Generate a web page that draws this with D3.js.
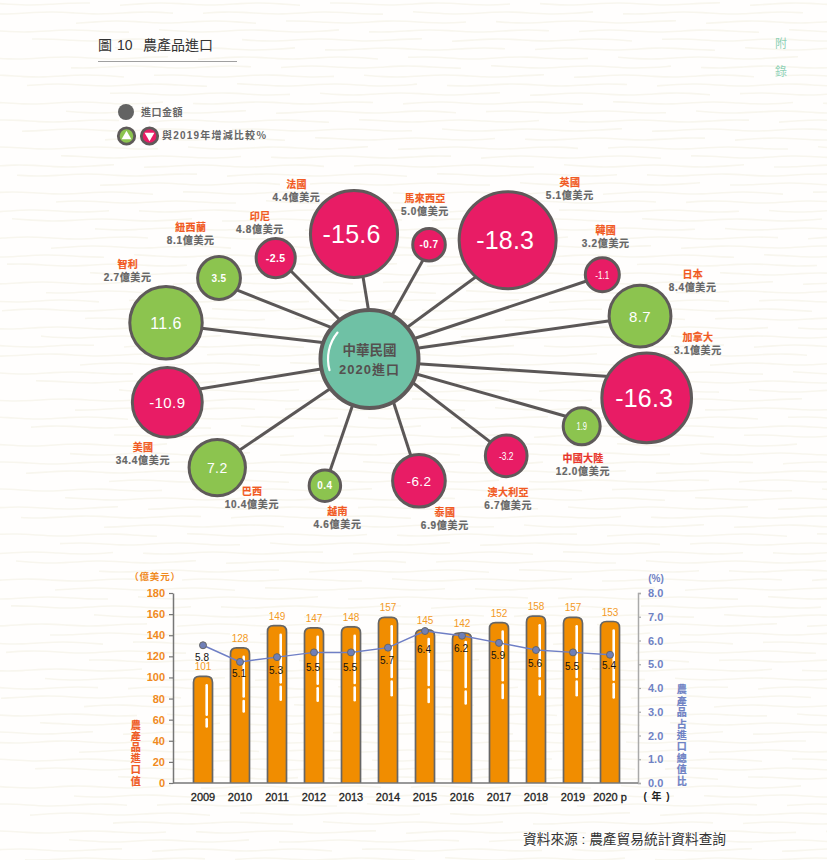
<!DOCTYPE html>
<html>
<head>
    <meta http-equiv="content-type" content="text/html; charset=utf-8" />
    <style>
        html, body { margin: 0; padding: 0; background: #fffefd; }
        svg { display: block; }
        text { font-family: "Liberation Sans", sans-serif; }
        .cjk { font-family: "Liberation Sans", "Noto Sans CJK TC", sans-serif; }
    </style>
</head>
<body>
    <svg width="827" height="860"></svg>

    <script src="https://d3js.org/d3.v7.min.js"></script>
    <script>
        // 泡泡圖資料
        const countries = ['法國', '馬來西亞', '英國', '韓國', '日本', '加拿大', '中國大陸', '澳大利亞', '泰國', '越南', '巴西', '美國', '智利', '紐西蘭', '印尼']
        const importAmounts = [4.4, 5.0, 5.1, 3.2, 8.4, 3.1, 12.0, 6.7, 6.9, 4.6, 10.4, 34.4, 2.7, 8.1, 4.8]
        const changes = [-15.6, -0.7, -18.3, -1.1, 8.7, -16.3, 1.9, -3.2, -6.2, 0.4, 7.2, -10.9, 11.6, 3.5, -2.5]

        // 長條圖資料
        const years = ['2009', '2010', '2011', '2012', '2013', '2014', '2015', '2016', '2017', '2018', '2019', '2020 p']
        const exportValues = [101, 128, 149, 147, 148, 157, 145, 142, 152, 158, 157, 153]
        const shares = [5.8, 5.1, 5.3, 5.5, 5.5, 5.7, 6.4, 6.2, 5.9, 5.6, 5.5, 5.4]
        const valueTicks = [0, 20, 40, 60, 80, 100, 120, 140, 160, 180]
        const shareTicks = [0, 1, 2, 3, 4, 5, 6, 7, 8]

        // 版面 (spoke angle in degrees clockwise from north, spoke length, label offset, number size)
        const spokeAngle = [-7.07, 27.5, 49.3, 70.1, 81, 98, 107.6, 125.3, 157.9, 199.4, 234.5, 257.9, -79.9, -61.7, -42.9]
        const spokeLen = [126, 128.9, 182.2, 247.6, 273.9, 279.9, 222.6, 167.5, 131.4, 134.3, 187, 206.8, 206.7, 170.9, 137.8]
        const labelDx = [-57.5, -4, 62.3, 3.4, 52.7, 51.3, 1.3, 2, 26, 12.7, 34.7, -24.3, -38.3, -28.3, -15.7]
        const labelDy = [-50, -46.5, -58, -44.7, -41.3, -60.7, 31.7, 36.3, 31.3, 25.6, 23.6, 44.7, -58.7, -50.7, -41.5]
        const numberPx = [25, 10, 25, 10.5, 15, 25, 10.5, 10.5, 13.5, 10, 14, 15, 16, 10, 10.5]
        const numberFit = [0, 0, 0, 14, 0, 0, 10.5, 14.5, 0, 0, 0, 0, 0, 0, 0]
        const shareLabelDy = [12, 12, 13, 15, 15, 13, 18, 13, 13, 13, 14, 11]
        // the spokes do not all aim at the exact centres, offsets at each end
        const hubAimDx = [7, -2, 0, 0, 0, 0, 0, 0, 10, -1, 0, 0, 0, 0, 0]
        const hubAimDy = [0, 0, -4, -5.5, -4, 1.6, 1.7, -9.5, 0, 0, 3, 2, -11, -16.4, -9.5]
        const endAimDx = [2, 2.6, 0, 0, 0, 0, 0, 0, 0, 0, 0, 0, 0, 0, 0]
        const endAimDy = [0, 0, 13.4, 1, 0.4, -19, -5.6, -1.7, 0, 0, -2.3, -8, 1.3, 5, -2.3]

        const svg = d3.select('svg')
        const waveLine = d3.line().curve(d3.curveBasis)

        // paper background
        const paper = svg.append('g').attr('fill', 'none').attr('stroke', '#f8f6ee').attr('stroke-width', 1.6)
        d3.range(4, 860, 9).forEach((y, row) => {
            d3.range(-90 + (row * 83) % 210, 827, 210).forEach((x0, col) => {
                const pts = d3.range(0, 10).map(i => [x0 + i * 20, y + Math.sin(i * 1.3 + row + col * 2) * 1.3])
                paper.append('path').attr('d', waveLine(pts))
            })
        })

        // title
        const title = svg.append('text').attr('class', 'cjk').attr('y', 50).attr('font-size', 14).attr('fill', '#333')
        title.append('tspan').attr('x', 98).text('圖')
        title.append('tspan').attr('x', 117).text('10')
        title.append('tspan').attr('x', 143).text('農產品進口')
        svg.append('line').attr('x1', 98).attr('x2', 237).attr('y1', 61.5).attr('y2', 61.5)
            .attr('stroke', '#888').attr('stroke-width', 0.8)
        svg.append('text').attr('class', 'cjk').attr('x', 781).attr('y', 48).attr('text-anchor', 'middle')
            .attr('font-size', 12).attr('fill', '#8fd1b5').text('附')
        svg.append('text').attr('class', 'cjk').attr('x', 781).attr('y', 76).attr('text-anchor', 'middle')
            .attr('font-size', 12).attr('fill', '#8fd1b5').text('錄')

        // legend
        const legend = svg.append('g')
        legend.append('circle').attr('cx', 126).attr('cy', 112).attr('r', 8).attr('fill', '#636363')
        legend.append('text').attr('class', 'cjk').attr('x', 141).attr('y', 115.5)
            .attr('font-size', 10).attr('font-weight', 700).attr('fill', '#666')
            .attr('letter-spacing', 0.5).text('進口金額')
        const triangle = d3.symbol().type(d3.symbolTriangle).size(42)
        const markers = [{ x: 126.5, fill: '#8cc44f', rot: 0, dy: 0.5 }, { x: 149.5, fill: '#e81c65', rot: 180, dy: -0.5 }]
        markers.forEach(m => {
            legend.append('circle').attr('cx', m.x).attr('cy', 136).attr('r', 8.2)
                .attr('fill', m.fill).attr('stroke', '#5f5a5a').attr('stroke-width', 2.8)
            legend.append('path').attr('d', triangle).attr('fill', '#fff')
                .attr('transform', `translate(${m.x},${136 + m.dy}) rotate(${m.rot})`)
        })
        legend.append('text').attr('class', 'cjk').attr('x', 162).attr('y', 139)
            .attr('font-size', 10).attr('font-weight', 700).attr('fill', '#666')
            .attr('letter-spacing', 1.2).text('與2019年增減比較％')

        // hub and spokes
        const hub = svg.append('g').attr('transform', 'translate(369.5,359)')
        const radius = d3.scaleLinear().domain([0, 18.3]).range([15, 48.5])
        const nodes = countries.map((name, i) => {
            const [x, y] = d3.pointRadial(spokeAngle[i] * Math.PI / 180, spokeLen[i])
            return { name, amount: importAmounts[i], change: changes[i], x, y, i }
        })

        hub.selectAll('line.spoke').data(nodes).join('line').attr('class', 'spoke')
            .attr('x1', d => hubAimDx[d.i]).attr('y1', d => hubAimDy[d.i])
            .attr('x2', d => d.x + endAimDx[d.i]).attr('y2', d => d.y + endAimDy[d.i])
            .attr('stroke', '#5b5757').attr('stroke-width', 3)

        const bubble = hub.selectAll('g.bubble').data(nodes).join('g').attr('class', 'bubble')
            .attr('transform', d => `translate(${d.x},${d.y})`)
        bubble.append('circle').attr('r', d => radius(Math.abs(d.change)))
            .attr('fill', d => d.change < 0 ? '#e81c65' : '#8cc44f')
            .attr('stroke', '#5f5a5a').attr('stroke-width', 3)
        bubble.append('text').attr('text-anchor', 'middle').attr('dy', '0.36em')
            .attr('dx', d => numberPx[d.i] > 20 ? -2.5 : 0)
            .attr('fill', '#fff')
            .attr('font-size', d => numberPx[d.i])
            .attr('font-weight', d => numberPx[d.i] < 12 && !numberFit[d.i] ? 700 : 400)
            .attr('letter-spacing', d => numberFit[d.i] ? 0 : (numberPx[d.i] > 20 ? 0.2 : 0.4))
            .each(function(d) {
                if (numberFit[d.i]) d3.select(this).attr('textLength', numberFit[d.i]).attr('lengthAdjust', 'spacingAndGlyphs')
            })
            .text(d => d.change)

        bubble.append('text').attr('class', 'cjk').attr('text-anchor', 'middle')
            .attr('x', d => labelDx[d.i]).attr('y', d => labelDy[d.i] + 3.6)
            .attr('font-size', 10).attr('font-weight', 700)
            .attr('fill', d => d.name === '中國大陸' ? '#e8352a' : '#f15a22').attr('letter-spacing', 0.3)
            .attr('stroke', d => d.name === '中國大陸' ? '#e8352a' : '#f15a22').attr('stroke-width', 0.2)
            .text(d => d.name)
        bubble.append('text').attr('class', 'cjk').attr('text-anchor', 'middle')
            .attr('x', d => labelDx[d.i]).attr('y', d => labelDy[d.i] + 16.6)
            .attr('font-size', 10).attr('font-weight', 700)
            .attr('fill', '#666').attr('letter-spacing', 0.7)
            .attr('stroke', '#666').attr('stroke-width', 0.2)
            .text(d => d.amount.toFixed(1) + '億美元')

        hub.append('circle').attr('r', 49).attr('fill', '#6fc1a5')
            .attr('stroke', '#5f5a5a').attr('stroke-width', 4)
        hub.append('path').attr('fill', '#fff')
            .attr('d', d3.arc().innerRadius(40.4).outerRadius(42.6).cornerRadius(1)
                .startAngle(-107 * Math.PI / 180).endAngle(-49 * Math.PI / 180)())
        hub.append('text').attr('class', 'cjk').attr('text-anchor', 'middle').attr('y', -4)
            .attr('font-size', 13.5).attr('font-weight', 700).attr('fill', '#55504f').text('中華民國')
        hub.append('text').attr('class', 'cjk').attr('text-anchor', 'middle').attr('y', 15)
            .attr('font-size', 13).attr('font-weight', 700).attr('fill', '#55504f')
            .attr('letter-spacing', 1).text('2020進口')

        // bar chart
        const x = d3.scaleBand().domain(years).range([184.5, 628.5]).padding(0)
        const yVal = d3.scaleLinear().domain([0, 180]).range([783, 593])
        const yPct = d3.scaleLinear().domain([0, 8]).range([783, 593])
        const cx = d => x(d) + x.bandwidth() / 2
        const barW = 19

        const barPath = (year, v) => {
            const l = cx(year) - barW / 2, r = cx(year) + barW / 2, t = yVal(v), b = yVal(0)
            return `M${l},${b}V${t + 6}Q${l},${t} ${l + 6},${t}H${r - 6}Q${r},${t} ${r},${t + 6}V${b}`
        }
        const bars = svg.append('g').selectAll('g').data(years).join('g')
        bars.append('path').attr('d', (d, i) => barPath(d, exportValues[i]))
            .attr('fill', '#f18d00').attr('stroke', '#666').attr('stroke-width', 1.7)
        // white highlights on the bars
        bars.append('line').attr('x1', d => cx(d) + 3.7).attr('x2', d => cx(d) + 3.7)
            .attr('y1', (d, i) => yVal(exportValues[i]) + 9)
            .attr('y2', (d, i) => yVal(exportValues[i] * 0.64))
            .attr('stroke', '#fff').attr('stroke-width', 2.6).attr('stroke-linecap', 'round')
        bars.append('line').attr('x1', d => cx(d) + 3.7).attr('x2', d => cx(d) + 3.7)
            .attr('y1', (d, i) => yVal(exportValues[i] * 0.64) + 4.5)
            .attr('y2', (d, i) => yVal(exportValues[i] * 0.53))
            .attr('stroke', '#fff').attr('stroke-width', 2.6).attr('stroke-linecap', 'round')
        bars.append('text').attr('x', d => cx(d)).attr('text-anchor', 'middle')
            .attr('y', (d, i) => yVal(exportValues[i]) - 6)
            .attr('font-size', 10).attr('fill', '#f39a26').text((d, i) => exportValues[i])

        // axes
        const styleAxis = (g, stroke, fill) => {
            g.selectAll('path.domain').attr('stroke', stroke).attr('stroke-width', 1.5)
            g.selectAll('.tick line').attr('stroke', stroke).attr('stroke-width', 1.2)
            g.selectAll('.tick text').attr('fill', fill).attr('font-size', 11)
                .attr('font-weight', 700).attr('font-family', '"Liberation Sans", sans-serif')
        }
        const leftAxis = svg.append('g').attr('transform', 'translate(173,0)')
            .call(d3.axisLeft(yVal).tickValues(valueTicks).tickSize(4).tickSizeOuter(0).tickPadding(4))
        styleAxis(leftAxis, '#777', '#f08a1d')
        const rightAxis = svg.append('g').attr('transform', 'translate(638,0)')
            .call(d3.axisRight(yPct).tickValues(shareTicks).tickSize(3).tickSizeOuter(3).tickPadding(7)
                .tickFormat(d3.format('.1f')))
        styleAxis(rightAxis, '#aaa', '#6f82c4')
        const bottomAxis = svg.append('g').attr('transform', 'translate(0,783)')
            .call(d3.axisBottom(x).tickSize(0).tickPadding(8))
        bottomAxis.select('path.domain').attr('d', 'M173,0H638')
        styleAxis(bottomAxis, '#777', '#222')
        bottomAxis.selectAll('.tick text').attr('font-size', 11).attr('font-weight', 400).attr('dy', '0.95em')
            .attr('stroke', '#222').attr('stroke-width', 0.3)

        // share line
        const shareLine = d3.line().x((d, i) => cx(years[i])).y(d => yPct(d))
        svg.append('path').attr('d', shareLine(shares)).attr('fill', 'none')
            .attr('stroke', '#6f7fc5').attr('stroke-width', 1.5)
        svg.append('g').selectAll('circle').data(shares).join('circle')
            .attr('cx', (d, i) => cx(years[i])).attr('cy', d => yPct(d)).attr('r', 3.5)
            .attr('fill', '#6f7fb8').attr('stroke', '#666').attr('stroke-width', 1)
        svg.append('g').selectAll('text').data(shares).join('text')
            .attr('x', (d, i) => cx(years[i]) - 1).attr('y', (d, i) => yPct(d) + shareLabelDy[i] + 3.6)
            .attr('text-anchor', 'middle').attr('font-size', 10).attr('fill', '#111')
            .text(d => d.toFixed(1))

        // axis titles
        svg.append('text').attr('class', 'cjk').attr('x', 155).attr('y', 579.5).attr('text-anchor', 'middle')
            .attr('font-size', 9.5).attr('font-weight', 700).attr('letter-spacing', 0.8).attr('fill', '#f08a1d').text('（億美元）')
        svg.append('text').attr('x', 656).attr('y', 581.5).attr('text-anchor', 'middle')
            .attr('font-size', 10).attr('font-weight', 700).attr('fill', '#6f82c4').text('(%)')
        svg.append('text').attr('class', 'cjk').attr('x', 657).attr('y', 799.5).attr('text-anchor', 'middle')
            .attr('font-size', 10).attr('font-weight', 700).attr('letter-spacing', 1).attr('fill', '#222').text('( 年 )')

        const vertical = (chars, px, lastY, step, fill) => {
            svg.append('g').selectAll('text').data(chars.split('')).join('text')
                .attr('class', 'cjk').attr('x', px).attr('text-anchor', 'middle')
                .attr('y', (d, i) => lastY - (chars.length - 1 - i) * step + 3.6)
                .attr('font-size', 10).attr('font-weight', 700)
                .attr('fill', fill).attr('stroke', fill).attr('stroke-width', 0.2).text(d => d)
        }
        vertical('農產品進口值', 135.7, 781, 11.2, '#ef5a24')
        vertical('農產品占進口總值比', 681.7, 781, 11.4, '#6f82c4')

        // source
        svg.append('text').attr('class', 'cjk').attr('x', 523).attr('y', 844)
            .attr('font-size', 13.7).attr('fill', '#333').text('資料來源 : 農產貿易統計資料查詢')
    </script>
</body>
</html>
